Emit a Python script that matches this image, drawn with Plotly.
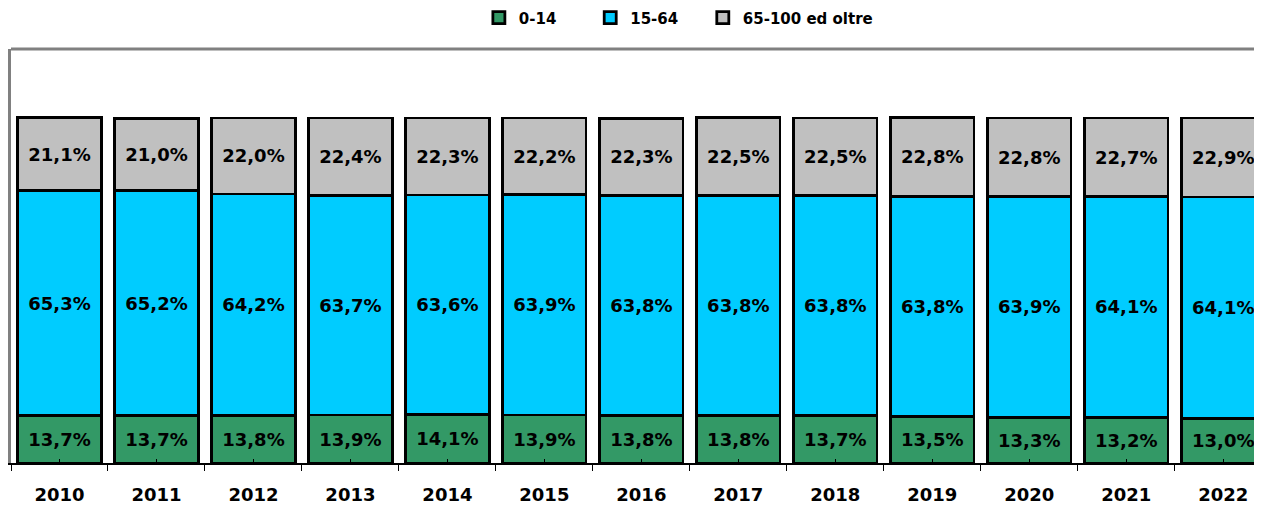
import plotly.graph_objects as go

years = ["2010", "2011", "2012", "2013", "2014", "2015", "2016", "2017", "2018", "2019", "2020", "2021", "2022"]
age_0_14 = [13.7, 13.7, 13.8, 13.9, 14.1, 13.9, 13.8, 13.8, 13.7, 13.5, 13.3, 13.2, 13.0]
age_15_64 = [65.3, 65.2, 64.2, 63.7, 63.6, 63.9, 63.8, 63.8, 63.8, 63.8, 63.9, 64.1, 64.1]
age_65_plus = [21.1, 21.0, 22.0, 22.4, 22.3, 22.2, 22.3, 22.5, 22.5, 22.8, 22.8, 22.7, 22.9]

series_names = ["0-14", "15-64", "65-100 ed oltre"]
series_values = [age_0_14, age_15_64, age_65_plus]
series_colors = ["#339966", "#00CCFF", "#C0C0C0"]
legend_ids = ["legend", "legend2", "legend3"]
legend_x = [0.374, 0.463, 0.553]

FONT = "DejaVu Sans, Verdana, sans-serif"

fig = go.Figure()
for name, vals, color, lg in zip(series_names, series_values, series_colors, legend_ids):
    fig.add_trace(go.Bar(
        x=years, y=vals, name=name, legend=lg,
        marker=dict(color=color, line=dict(color="black", width=2.8)),
        texttemplate="%{y:.1f}%",
        textposition="inside",
        insidetextanchor="middle",
        textangle=0,
        textfont=dict(family=FONT, size=18, color="black", weight="bold"),
        constraintext="none",
    ))

legend_common = dict(
    orientation="h",
    xanchor="left",
    yref="container", y=0.98, yanchor="middle",
    itemwidth=30,
    font=dict(family=FONT, size=15, color="black", weight="bold"),
    bgcolor="rgba(0,0,0,0)",
)

# page body has an 8px margin: the figure is sized/positioned to compensate
fig.update_layout(
    barmode="stack",
    bargap=0.14,
    separators=",.",
    width=1254, height=498,
    margin=dict(l=3, r=0, t=41, b=43, autoexpand=False),
    plot_bgcolor="white",
    paper_bgcolor="white",
    font=dict(family=FONT, color="black"),
    legend=dict(legend_common, x=legend_x[0]),
    legend2=dict(legend_common, x=legend_x[1]),
    legend3=dict(legend_common, x=legend_x[2]),
    shapes=[
        dict(type="line", xref="paper", yref="paper", x0=0, x1=1, y0=1, y1=1,
             line=dict(color="#808080", width=3)),
    ],
    xaxis=dict(
        type="category",
        range=[-0.5, 12.4],
        showline=True, linecolor="black", linewidth=2,
        ticks="outside", tickson="boundaries", ticklen=6, tickcolor="black", tickwidth=1,
        tickfont=dict(family=FONT, size=18, color="black", weight="bold"),
        ticklabelstandoff=14,
        showgrid=False,
    ),
    xaxis2=dict(
        type="category", overlaying="x", matches="x", side="bottom",
        ticks="inside", ticklen=4, tickcolor="black", tickwidth=1,
        showticklabels=False, showgrid=False, showline=False,
    ),
    yaxis=dict(
        range=[0, 120],
        showline=True, linecolor="#808080", linewidth=3,
        showticklabels=False, ticks="",
        showgrid=False, zeroline=False,
    ),
)

# invisible helper trace so the overlaying axis with centre ticks is drawn
fig.add_trace(go.Scatter(x=years, y=[None] * len(years), xaxis="x2", showlegend=False,
                         hoverinfo="skip", mode="markers"))

fig.write_html("out.html")
